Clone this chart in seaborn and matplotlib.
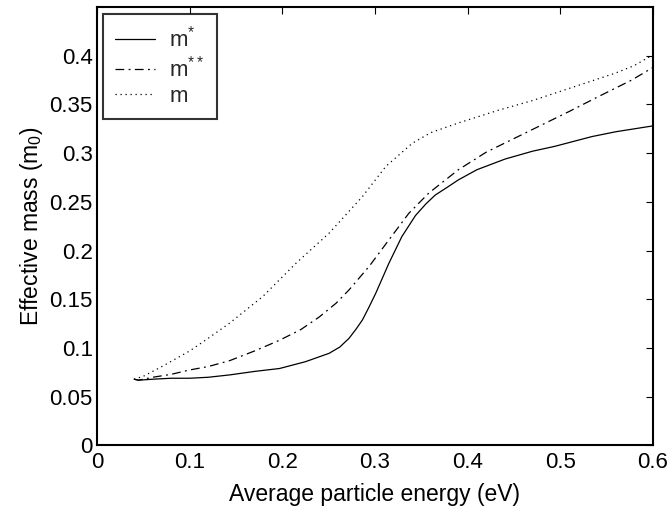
import numpy as np
import pandas as pd
import matplotlib
matplotlib.use("Agg")
import matplotlib.pyplot as plt
import seaborn as sns

# Data
x_star = [0.040, 0.045, 0.06, 0.08, 0.10, 0.12, 0.143, 0.17, 0.197, 0.225, 0.2505, 0.262,
          0.272, 0.280, 0.2864, 0.293, 0.3007, 0.315, 0.329, 0.3437, 0.355, 0.365, 0.378,
          0.390, 0.41, 0.4405, 0.47, 0.494, 0.534, 0.560, 0.600]
y_star = [0.068, 0.067, 0.068, 0.069, 0.069, 0.070, 0.0724, 0.076, 0.079, 0.086, 0.0946,
          0.101, 0.110, 0.120, 0.1288, 0.141, 0.156, 0.187, 0.2144, 0.236, 0.248, 0.257,
          0.265, 0.2726, 0.283, 0.294, 0.302, 0.307, 0.317, 0.322, 0.328]

x_dstar = [0.040, 0.045, 0.06, 0.08, 0.10, 0.12, 0.143, 0.17, 0.197, 0.22, 0.240, 0.258,
           0.272, 0.2935, 0.315, 0.3366, 0.358, 0.390, 0.42, 0.45, 0.48, 0.51, 0.541,
           0.577, 0.600]
y_dstar = [0.068, 0.067, 0.070, 0.073, 0.0775, 0.081, 0.087, 0.097, 0.108, 0.119, 0.132,
           0.146, 0.1597, 0.1836, 0.211, 0.2384, 0.259, 0.283, 0.301, 0.315, 0.329, 0.343,
           0.358, 0.375, 0.388]

x_m = [0.040, 0.05, 0.07, 0.10, 0.12, 0.143, 0.1788, 0.2147, 0.2505, 0.2864, 0.3115,
       0.340, 0.36, 0.390, 0.433, 0.47, 0.505, 0.559, 0.58, 0.600]
y_m = [0.068, 0.071, 0.081, 0.097, 0.110, 0.1255, 0.1528, 0.187, 0.2179, 0.2554, 0.2862,
       0.310, 0.321, 0.331, 0.344, 0.354, 0.365, 0.382, 0.390, 0.401]

labels = ["m$^{*}$", "m$^{**}$", "m"]
styles = ["-", (0, (7, 3.5, 1.5, 3.5)), (0, (1, 3))]

sns.set_theme(style="white")
plt.rcParams["font.family"] = ["Liberation Sans", "DejaVu Sans"]
plt.rcParams["mathtext.fontset"] = "custom"
plt.rcParams["mathtext.rm"] = "Liberation Sans"
plt.rcParams["mathtext.it"] = "Liberation Sans"

fig = plt.figure(figsize=(6.7, 5.15), dpi=100)
ax = fig.add_axes([0.1448, 0.135, 0.8298, 0.8514])

for xs, ys, lab, ls in zip([x_star, x_dstar, x_m], [y_star, y_dstar, y_m], labels, styles):
    df = pd.DataFrame({"x": xs, "y": ys})
    sns.lineplot(data=df, x="x", y="y", ax=ax, color="black", linewidth=0.9,
                 linestyle=ls, label=lab, estimator=None, sort=True)

ax.set_xlim(0, 0.6)
ax.set_ylim(0, 0.45)
ax.set_xticks([0, 0.1, 0.2, 0.3, 0.4, 0.5, 0.6])
ax.set_xticklabels(["0", "0.1", "0.2", "0.3", "0.4", "0.5", "0.6"])
ax.set_yticks([0, 0.05, 0.1, 0.15, 0.2, 0.25, 0.3, 0.35, 0.4])
ax.set_yticklabels(["0", "0.05", "0.1", "0.15", "0.2", "0.25", "0.3", "0.35", "0.4"])
ax.tick_params(direction="in", length=5, width=0.8, top=True, right=True,
               labelsize=16, colors="black", pad=3)
ax.tick_params(axis="x", pad=5)
for s in ax.spines.values():
    s.set_color("black")
    s.set_linewidth(1.5)
ax.set_xlabel("Average particle energy (eV)", fontsize=16.5, color="black", labelpad=7)
ax.set_ylabel("Effective mass (m$_0$)", fontsize=16.5, color="black", labelpad=3)

leg = ax.legend(loc="upper left", bbox_to_anchor=(0.010, 0.985), fontsize=16,
                frameon=True, fancybox=False, handlelength=1.8, handletextpad=0.65,
                borderpad=0.55, labelspacing=0.18, borderaxespad=0)
leg.get_frame().set_edgecolor("black")
leg.get_frame().set_linewidth(1.5)

fig.savefig("out.png", dpi=100, facecolor="white")
